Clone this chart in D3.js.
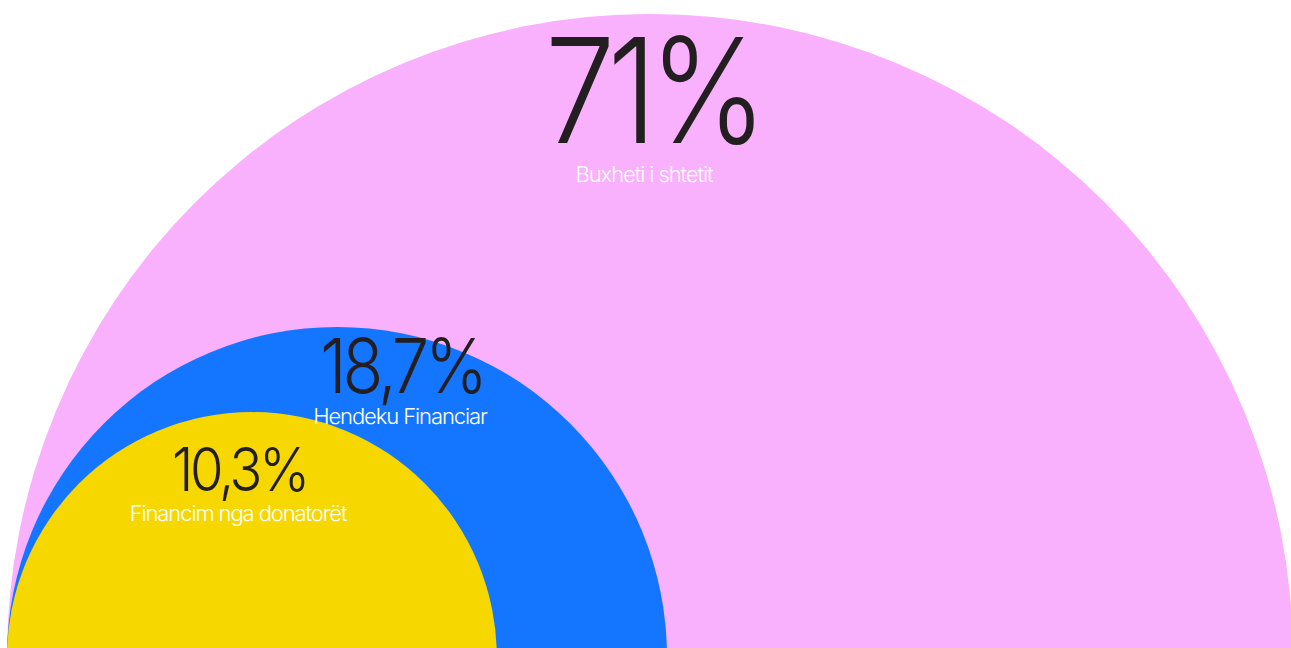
<!DOCTYPE html>
<html>
<head>
<meta charset="utf-8">
<script src="https://cdn.jsdelivr.net/npm/d3@7"></script>
<style>
  html, body { margin: 0; padding: 0; background: #ffffff; }
  svg { display: block; }
  .num { font-family: Inter, "Noto Sans", sans-serif; font-weight: 300; fill: #231f20; }
  .lbl { font-family: Inter, "Noto Sans", sans-serif; font-weight: 300; fill: #ffffff; }
</style>
</head>
<body>
<svg id="chart" width="1291" height="648"></svg>
<script>
// Funding sources (share of total, %)
const categories = ["Buxheti i shtetit", "Hendeku Financiar", "Financim nga donatorët"];
const values = [71, 18.7, 10.3];
const valueLabels = ["71%", "18,7%", "10,3%"];
const colors = ["#f9b0fd", "#1476ff", "#f6d800"];

const width = 1291, height = 648;
const baseY = 657;   // common baseline of the half-discs (just below the frame)
const leftX = 7;     // all half-discs touch at the left end

const svg = d3.select("#chart");

// area-proportional radius
const r = d3.scaleSqrt().domain([0, d3.max(values)]).range([0, 643]);

const data = categories.map((c, i) => ({
  name: c, value: values[i], label: valueLabels[i], color: colors[i]
}));

svg.selectAll("circle.disc")
  .data(data)
  .join("circle")
  .attr("class", "disc")
  .attr("cx", d => leftX + r(d.value))
  .attr("cy", baseY)
  .attr("r", d => r(d.value))
  .attr("fill", d => d.color);

// text layout: [number center x, number baseline, number size, horizontal squeeze,
//               name center x, name baseline, name size]
const textLayout = [
  [656, 143, 146, 0.86, 644, 182, 22],
  [404, 393, 75, 0.89, 400, 424, 22],
  [241, 491, 61, 0.89, 238, 521, 22]
];

const g = svg.selectAll("g.txt")
  .data(data)
  .join("g")
  .attr("class", "txt");

g.append("text")
  .attr("class", "num")
  .attr("text-anchor", "middle")
  .attr("transform", (d, i) =>
    `translate(${textLayout[i][0]},${textLayout[i][1]}) scale(${textLayout[i][3]},1)`)
  .attr("font-size", (d, i) => textLayout[i][2])
  .attr("letter-spacing", (d, i) => (-0.06 * textLayout[i][2]) + "px")
  .attr("dx", (d, i) => (-0.06 * textLayout[i][2] / 2) + "px")
  .text(d => d.label);

g.append("text")
  .attr("class", "lbl")
  .attr("text-anchor", "middle")
  .attr("x", (d, i) => textLayout[i][4])
  .attr("y", (d, i) => textLayout[i][5])
  .attr("font-size", (d, i) => textLayout[i][6])
  .attr("letter-spacing", "-1.1px")
  .text(d => d.name);
</script>
</body>
</html>
